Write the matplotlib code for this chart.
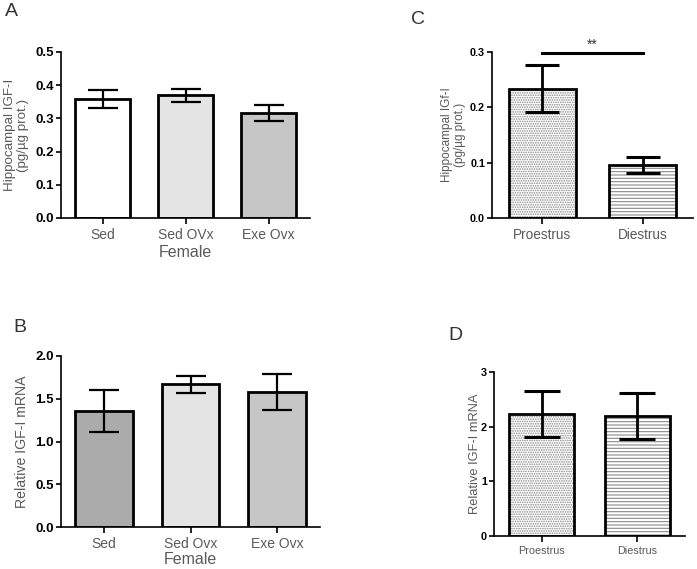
import matplotlib
matplotlib.use("Agg")
import matplotlib.pyplot as plt
import numpy as np

plt.rcParams['hatch.linewidth'] = 0.8

# Panel A
a_cats = ["Sed", "Sed OVx", "Exe Ovx"]
a_vals = [0.359, 0.370, 0.317]
a_errs = [0.028, 0.020, 0.024]
a_colors = ["#ffffff", "#e4e4e4", "#c6c6c6"]

# Panel B
b_cats = ["Sed", "Sed Ovx", "Exe Ovx"]
b_vals = [1.357, 1.668, 1.579]
b_errs = [0.245, 0.100, 0.210]
b_colors = ["#ababab", "#e4e4e4", "#c6c6c6"]

# Panel C
c_cats = ["Proestrus", "Diestrus"]
c_vals = [0.234, 0.096]
c_errs = [0.043, 0.0145]
c_sig_y = 0.298

# Panel D
d_cats = ["Proestrus", "Diestrus"]
d_vals = [2.24, 2.20]
d_errs = [0.42, 0.42]

W, H = 697, 569
fig = plt.figure(figsize=(W/100, H/100), dpi=100)

def axrect(l, r, t, b):
    return [l/W, (H-b)/H, (r-l)/W, (b-t)/H]

sans = ['Liberation Sans', 'DejaVu Sans']
narrow = ['Liberation Sans Narrow', 'Liberation Sans', 'DejaVu Sans']
GRAY = "#5a5a5a"

def style(ax, fam, tick_fs, cat_fs):
    for s in ['top', 'right']:
        ax.spines[s].set_visible(False)
    for s in ['left', 'bottom']:
        ax.spines[s].set_linewidth(1.2)
    ax.tick_params(axis='y', length=3.5, width=1.2, labelsize=tick_fs, pad=1.5)
    ax.tick_params(axis='x', length=4.5, width=1.2, labelsize=cat_fs, labelcolor=GRAY, pad=3)
    for t in ax.get_yticklabels():
        t.set_fontfamily(fam)
        t.set_fontweight('bold')
    for t in ax.get_xticklabels():
        t.set_fontfamily(fam)

# ---- A
axA = fig.add_axes(axrect(61, 310, 52, 218))
x = np.arange(len(a_cats))
axA.bar(x, a_vals, width=0.67, color=a_colors, edgecolor='black', linewidth=2.0, zorder=2)
axA.errorbar(x, a_vals, yerr=a_errs, fmt='none', ecolor='black', elinewidth=1.6, capsize=11, capthick=1.6, zorder=3)
axA.set_xlim(-0.5, 2.5)
axA.set_ylim(0, 0.5)
axA.set_yticks([0.0, 0.1, 0.2, 0.3, 0.4, 0.5])
axA.set_yticklabels(["0.0", "0.1", "0.2", "0.3", "0.4", "0.5"])
axA.set_xticks(x)
axA.set_xticklabels(a_cats)
style(axA, sans, 9.5, 10)
axA.set_xlabel("Female", fontsize=11.5, color=GRAY, family=sans, labelpad=2)
axA.set_ylabel("Hippocampal IGF-I\n(pg/\u00b5g prot.)", fontsize=9.6, color=GRAY, family=sans, linespacing=1.05)
axA.yaxis.set_label_coords(-0.13, 0.5)
fig.text(5/W, 1-12/H, "A", fontsize=14, color="#333333", family=sans, ha='left', va='center')

# ---- B
axB = fig.add_axes(axrect(61, 320, 356, 527))
x = np.arange(len(b_cats))
axB.bar(x, b_vals, width=0.67, color=b_colors, edgecolor='black', linewidth=2.0, zorder=2)
axB.errorbar(x, b_vals, yerr=b_errs, fmt='none', ecolor='black', elinewidth=1.6, capsize=11, capthick=1.6, zorder=3)
axB.set_xlim(-0.5, 2.5)
axB.set_ylim(0, 2.0)
axB.set_yticks([0.0, 0.5, 1.0, 1.5, 2.0])
axB.set_yticklabels(["0.0", "0.5", "1.0", "1.5", "2.0"])
axB.set_xticks(x)
axB.set_xticklabels(b_cats)
style(axB, sans, 9.5, 10)
axB.set_xlabel("Female", fontsize=11.5, color=GRAY, family=sans, labelpad=0.5)
axB.set_ylabel("Relative IGF-I mRNA", fontsize=10.2, color=GRAY, family=sans)
axB.yaxis.set_label_coords(-0.125, 0.5)
fig.text(13/W, 1-327/H, "B", fontsize=14, color="#333333", family=sans, ha='left', va='center')

# ---- C
axC = fig.add_axes(axrect(492, 693, 52, 218))
x = np.arange(len(c_cats))
bars = axC.bar(x, c_vals, width=0.67, color='white', edgecolor='black', linewidth=2.0, zorder=2)
bars[0].set_hatch('.......')
bars[1].set_hatch('-----')
for b in bars:
    b._hatch_color = matplotlib.colors.to_rgba("#8a8a8a")
axC.errorbar(x, c_vals, yerr=c_errs, fmt='none', ecolor='black', elinewidth=2.0, capsize=12.5, capthick=2.2, zorder=3)
axC.plot([0, 1], [c_sig_y, c_sig_y], color='black', lw=2.2, clip_on=False, zorder=4)
axC.text(0.5, c_sig_y + 0.003, "**", ha='center', va='bottom', fontsize=10, family=sans, color="#333333")
axC.set_xlim(-0.5, 1.5)
axC.set_ylim(0, 0.3)
axC.set_yticks([0.0, 0.1, 0.2, 0.3])
axC.set_yticklabels(["0.0", "0.1", "0.2", "0.3"])
axC.set_xticks(x)
axC.set_xticklabels(c_cats)
style(axC, narrow, 7.8, 9.8)
axC.set_ylabel("Hippocampal IGf-I\n(pg/\u00b5g prot.)", fontsize=8.5, color=GRAY, family=narrow, linespacing=1.1)
axC.yaxis.set_label_coords(-0.13, 0.5)
fig.text(411/W, 1-19/H, "C", fontsize=14, color="#333333", family=sans, ha='left', va='center')

# ---- D
axD = fig.add_axes(axrect(494, 685, 372, 536))
x = np.arange(len(d_cats))
bars = axD.bar(x, d_vals, width=0.68, color='white', edgecolor='black', linewidth=2.0, zorder=2)
bars[0].set_hatch('.......')
bars[1].set_hatch('-----')
for b in bars:
    b._hatch_color = matplotlib.colors.to_rgba("#8a8a8a")
axD.errorbar(x, d_vals, yerr=d_errs, fmt='none', ecolor='black', elinewidth=2.0, capsize=13, capthick=2.2, zorder=3)
axD.set_xlim(-0.5, 1.5)
axD.set_ylim(0, 3)
axD.set_yticks([0, 1, 2, 3])
axD.set_yticklabels(["0", "1", "2", "3"])
axD.set_xticks(x)
axD.set_xticklabels(d_cats)
style(axD, narrow, 7.8, 7.8)
axD.set_ylabel("Relative IGF-I mRNA", fontsize=9.3, color=GRAY, family=narrow)
axD.yaxis.set_label_coords(-0.07, 0.5)
fig.text(448/W, 1-335/H, "D", fontsize=14, color="#333333", family=sans, ha='left', va='center')

fig.savefig("out.png", dpi=100)
